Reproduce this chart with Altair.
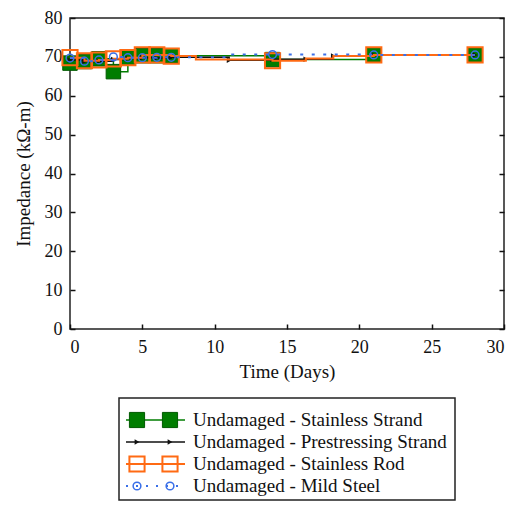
import altair as alt
import pandas as pd

# ---------------- data ----------------
series_names = [
    "Undamaged - Stainless Strand",
    "Undamaged - Prestressing Strand",
    "Undamaged - Stainless Rod",
    "Undamaged - Mild Steel",
]

marker_days = [0, 1, 2, 3, 4, 5, 6, 7, 14, 21, 28]

ss_days = [0, 1, 2, 3, 4, 5, 6, 7, 14, 21, 28]
ss_vals = [68.4, 68.8, 69.5, 66.2, 69.8, 70.3, 70.3, 70.3, 69.3, 70.5, 70.5]

ps_days = [0, 1, 2, 3, 4, 5, 6, 7, 11, 14, 16.3, 18.2, 21, 28]
ps_vals = [69.2, 68.8, 68.9, 69.3, 69.6, 69.8, 69.7, 69.9, 69.1, 69.4, 69.4, 70.2, 70.5, 70.5]

sr_days = [0, 1, 2, 3, 4, 5, 6, 7, 8.7, 14, 16.3, 18.2, 21, 28]
sr_vals = [69.8, 69.0, 69.2, 69.5, 69.8, 70.5, 70.5, 70.2, 69.3, 69.0, 69.6, 70.2, 70.5, 70.5]

ms_days = [0, 1, 2, 3, 4, 5, 6, 7, 10.9, 14, 21, 28]
ms_vals = [69.7, 68.9, 69.2, 70.0, 69.8, 69.8, 69.9, 69.9, 70.6, 70.6, 70.5, 70.5]

x_ticks = [0, 5, 10, 15, 20, 25, 30]
y_ticks = [0, 10, 20, 30, 40, 50, 60, 70, 80]

FONT = "Liberation Serif"
GREEN = "#007d00"
ORANGE = "#ff6a13"
BLUE = "#3a6fe8"
BLACK = "#111111"


def frame(days, vals, name, all_markers=False):
    return pd.DataFrame({
        "day": days,
        "value": vals,
        "series": name,
        "marker": [True if all_markers else (d in marker_days) for d in days],
    })


df_ss = frame(ss_days, ss_vals, series_names[0])
df_ps = frame(ps_days, ps_vals, series_names[1], all_markers=True)
df_sr = frame(sr_days, sr_vals, series_names[2])
df_ms = frame(ms_days, ms_vals, series_names[3])

x_enc = alt.X(
    "day:Q",
    scale=alt.Scale(domain=[0, 30], nice=False),
    axis=alt.Axis(
        values=x_ticks, title="Time (Days)", offset=-5, tickSize=5, domain=False,
        grid=False, labelPadding=9, titlePadding=6, tickColor=BLACK, tickWidth=1.5,
        labelFont=FONT, labelFontSize=18, labelColor=BLACK, titleFont=FONT,
        titleFontSize=19, titleFontWeight="normal", titleColor=BLACK,
    ),
)
y_scale = alt.Scale(domain=[0, 80], nice=False)
y_left = alt.Y(
    "value:Q",
    scale=y_scale,
    axis=alt.Axis(
        values=y_ticks, title="Impedance (kΩ-m)", offset=-5, tickSize=5, domain=False,
        grid=False, labelPadding=8, titlePadding=11, tickColor=BLACK, tickWidth=1.5,
        labelFont=FONT, labelFontSize=18, labelColor=BLACK, titleFont=FONT,
        titleFontSize=19, titleFontWeight="normal", titleColor=BLACK,
    ),
)
y_plain = alt.Y("value:Q", scale=y_scale, axis=None)


def series_layers(df, line_kw, point_kw, y_enc):
    base = alt.Chart(df)
    line = base.mark_line(interpolate="step-after", **line_kw).encode(x=x_enc, y=y_enc)
    pts = base.transform_filter("datum.marker").mark_point(**point_kw).encode(x=x_enc, y=y_plain)
    return [line, pts]


layers = []
layers += series_layers(
    df_ss, dict(color=GREEN, strokeWidth=1.5),
    dict(shape="square", size=210, filled=True, color=GREEN, stroke="#005a00", strokeWidth=1, opacity=1),
    y_left,
)
layers += series_layers(
    df_ps, dict(color=BLACK, strokeWidth=1.5),
    dict(shape="triangle-right", size=30, filled=True, color=BLACK, opacity=1),
    y_plain,
)
layers += series_layers(
    df_sr, dict(color=ORANGE, strokeWidth=2),
    dict(shape="square", size=230, filled=False, color=ORANGE, strokeWidth=2, opacity=1),
    y_plain,
)
layers += series_layers(
    df_ms, dict(color=BLUE, strokeWidth=2, strokeDash=[3, 8.5]),
    dict(shape="circle", size=60, filled=False, color=BLUE, strokeWidth=1.5, opacity=1),
    y_plain,
)

# inward ticks on the right-hand frame
tick_df = pd.DataFrame({"value": y_ticks, "day": [30] * len(y_ticks)})
right_ticks = alt.Chart(tick_df).mark_point(opacity=0).encode(
    x=x_enc,
    y=alt.Y(
        "value:Q", scale=y_scale,
        axis=alt.Axis(orient="right", values=y_ticks, labels=False, title=None,
                      offset=-5, tickSize=5, domain=False, grid=False,
                      tickColor=BLACK, tickWidth=1.5),
    ),
)
layers.append(right_ticks)

main = alt.layer(*layers).resolve_axis(y="independent").properties(width=434, height=311)

# ---------------- legend panel ----------------
leg_df = pd.DataFrame({"series": series_names})
ly = alt.Y("series:N",
           scale=alt.Scale(type="point", domain=series_names, range=[22, 88], padding=0),
           axis=None)

leg_styles = [
    (series_names[0], dict(color=GREEN, strokeWidth=1.5),
     dict(shape="square", size=230, filled=True, color=GREEN, stroke="#005a00", strokeWidth=1, opacity=1)),
    (series_names[1], dict(color=BLACK, strokeWidth=1.5),
     dict(shape="triangle-right", size=30, filled=True, color=BLACK, opacity=1)),
    (series_names[2], dict(color=ORANGE, strokeWidth=2),
     dict(shape="square", size=230, filled=False, color=ORANGE, strokeWidth=2, opacity=1)),
    (series_names[3], dict(color=BLUE, strokeWidth=2, strokeDash=[2, 8]),
     dict(shape="circle", size=60, filled=False, color=BLUE, strokeWidth=1.5, opacity=1)),
]

leg_layers = []
for name, lkw, pkw in leg_styles:
    b = alt.Chart(leg_df).transform_filter(alt.datum.series == name)
    leg_layers.append(b.mark_rule(**lkw).encode(x=alt.value(7), x2=alt.value(66), y=ly))
    leg_layers.append(b.mark_point(**pkw).encode(x=alt.value(18), y=ly))
    leg_layers.append(b.mark_point(**pkw).encode(x=alt.value(51), y=ly))
leg_layers.append(
    alt.Chart(leg_df).mark_text(align="left", baseline="middle", font=FONT, fontSize=19, color=BLACK)
    .encode(x=alt.value(74), y=ly, text="series:N")
)
legend = alt.layer(*leg_layers).properties(width=336, height=102)

chart = (
    alt.vconcat(main, legend, spacing=69, center=True, bounds="flush")
    .configure_view(stroke="#222222", strokeWidth=1.5)
    .properties(padding={"left": 5, "top": 0, "right": 0, "bottom": 0}, background="white")
)

chart.save("out.html", embed_options={"renderer": "svg", "actions": False})
